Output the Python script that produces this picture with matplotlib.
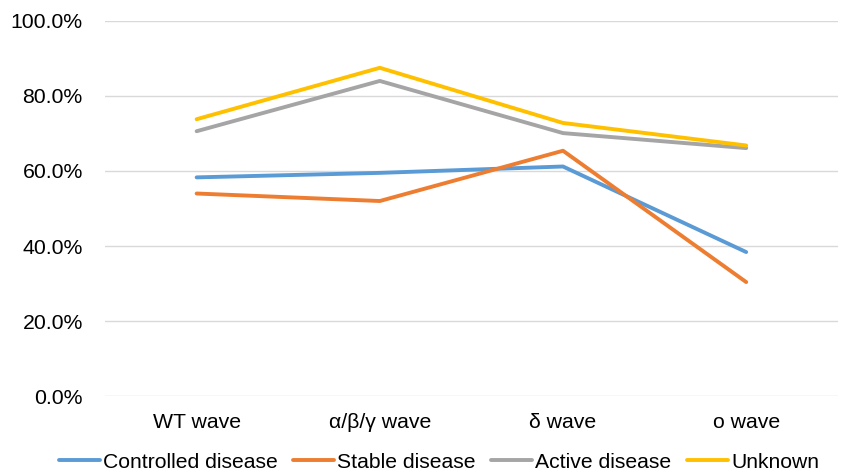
import matplotlib
matplotlib.use("Agg")
import matplotlib.pyplot as plt
from matplotlib.ticker import PercentFormatter

plt.rcParams['font.family'] = ['Liberation Sans', 'DejaVu Sans']

waves = ['WT wave', 'α/β/γ wave', 'δ wave', 'ο wave']
controlled = [58.3, 59.5, 61.2, 38.4]
stable = [54.0, 52.0, 65.4, 30.4]
active = [70.6, 84.0, 70.1, 66.1]
unknown = [73.8, 87.5, 72.8, 66.8]

series = [
    ('Controlled disease', controlled, '#5B9BD5'),
    ('Stable disease', stable, '#ED7D31'),
    ('Active disease', active, '#A5A5A5'),
    ('Unknown', unknown, '#FFC000'),
]

fig = plt.figure(figsize=(8.54, 4.75), dpi=100)
ax = fig.add_axes([0.123, 0.166, 0.858, 0.790])

x = range(len(waves))
for name, vals, col in series:
    ax.plot(x, vals, color=col, lw=2.8, label=name, solid_capstyle='round')

ax.set_xlim(-0.5, len(waves) - 0.5)
ax.set_ylim(0, 100)
ax.set_yticks([0, 20, 40, 60, 80, 100])
ax.yaxis.set_major_formatter(PercentFormatter(decimals=1))
ax.set_xticks(list(x))
ax.set_xticklabels(waves)
ax.grid(axis='y', color='#D9D9D9', lw=1)
ax.set_axisbelow(True)
for s in ax.spines.values():
    s.set_visible(False)
ax.tick_params(length=0, labelsize=15.3, colors='#000000')
ax.tick_params(axis='y', pad=16)
ax.tick_params(axis='x', pad=12)

fig.legend(loc='center', bbox_to_anchor=(0.514, 0.027), ncol=4, frameon=False,
           fontsize=15.2, handlelength=1.95, handletextpad=0.15, columnspacing=0.72,
           borderpad=0.1)

fig.savefig('out.png', dpi=100)
